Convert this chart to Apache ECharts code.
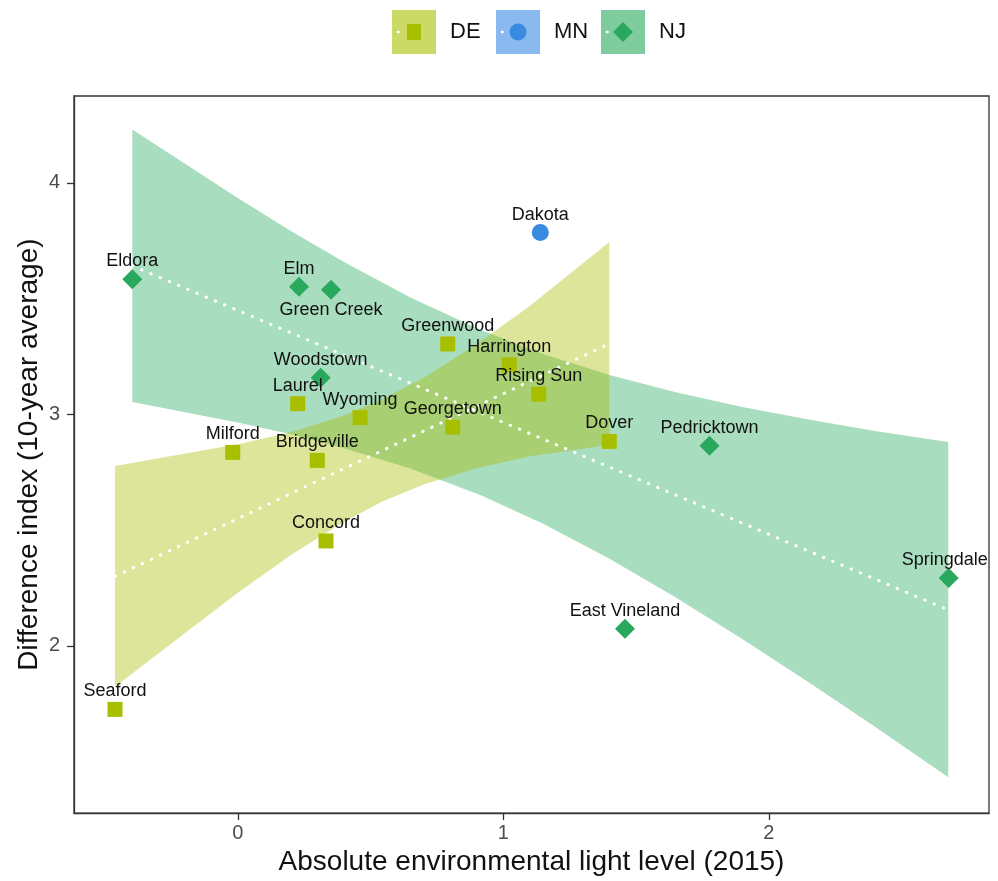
<!DOCTYPE html>
<html>
<head>
<meta charset="utf-8">
<script src="https://cdn.jsdelivr.net/npm/echarts@6/dist/echarts.min.js"></script>
<style>
html,body{margin:0;padding:0;background:#ffffff;}
#chart{width:998px;height:881px;}
</style>
</head>
<body>
<div id="chart"></div>
<script>
// ---------- data ----------
const groups = ['DE', 'MN', 'NJ'];

const deNames = ['Seaford','Milford','Bridgeville','Concord','Laurel','Wyoming','Georgetown','Greenwood','Harrington','Rising Sun','Dover'];
const deX = [-0.4625, -0.0192, 0.2994, 0.3322, 0.2256, 0.4603, 0.8094, 0.7906, 1.0226, 1.1333, 1.3992];
const deY = [1.7255, 2.8355, 2.801, 2.453, 3.046, 2.986, 2.945, 3.304, 3.2135, 3.087, 2.883];

const mnNames = ['Dakota'];
const mnX = [1.1394];
const mnY = [3.785];

const njNames = ['Eldora','Elm','Green Creek','Woodstown','Pedricktown','East Vineland','Springdale'];
const njX = [-0.3974, 0.2305, 0.351, 0.3122, 1.7767, 1.4584, 2.6776];
const njY = [3.583, 3.551, 3.538, 3.158, 2.864, 2.0735, 2.2925];

// fitted trend lines (end points)
const deLineX = [-0.4625, 1.3992];
const deLineY = [2.300, 3.305];
const njLineX = [-0.3974, 2.676];
const njLineY = [3.641, 2.155];

// confidence bands (x, lower, upper)
const deBandX  = [-0.4625, -0.25, 0, 0.2, 0.4, 0.5446, 0.7, 0.9, 1.1, 1.3992];
const deBandLo = [1.823, 2.010, 2.229, 2.392, 2.536, 2.623, 2.697, 2.767, 2.819, 2.867];
const deBandHi = [2.777, 2.820, 2.871, 2.923, 2.995, 3.065, 3.158, 3.304, 3.468, 3.744];

const njBandX  = [-0.3974, 0, 0.2, 0.4, 0.65, 0.9156, 1.15, 1.4, 1.65, 1.9, 2.15, 2.4, 2.676];
const njBandLo = [3.053, 2.965, 2.914, 2.854, 2.766, 2.650, 2.527, 2.376, 2.209, 2.030, 1.843, 1.650, 1.432];
const njBandHi = [4.230, 3.934, 3.792, 3.658, 3.505, 3.364, 3.261, 3.170, 3.095, 3.032, 2.978, 2.928, 2.880];

const xTicks = [0, 1, 2];
const yTicks = [2, 3, 4];

// ---------- styling ----------
const FONT = "'Liberation Sans', Arial, Helvetica, sans-serif";
const colors = { DE: '#a8bf00', MN: '#3a8ae2', NJ: '#28a95e' };
const bandFill = { DE: 'rgba(168,191,0,0.4)', NJ: 'rgba(40,169,94,0.4)' };
const keyFill = { DE: 'rgba(168,191,0,0.6)', MN: 'rgba(58,138,226,0.6)', NJ: 'rgba(40,169,94,0.6)' };
const symbols = { DE: 'rect', MN: 'circle', NJ: 'diamond' };
const symbolSizes = { DE: 15, MN: 17, NJ: 20 };
const labelShift = { 'Green Creek': [0, 20], 'Springdale': [-4, -18] };

function pointData(names, xs, ys) {
  return names.map((n, i) => {
    const off = labelShift[n] || [0, -18];
    return { value: [xs[i], ys[i]], name: n, label: { offset: off } };
  });
}

function bandSeries(key, xs, lo, hi) {
  const data = xs.map((x, i) => [x, lo[i], hi[i]]);
  return {
    type: 'custom',
    name: key + ' band',
    data: data,
    z: 1,
    silent: true,
    clip: true,
    encode: { x: 0, y: [1, 2] },
    renderItem: function (params, api) {
      if (params.dataIndex !== 0) return null;
      const pts = [];
      for (let i = 0; i < data.length; i++) pts.push(api.coord([data[i][0], data[i][2]]));
      for (let i = data.length - 1; i >= 0; i--) pts.push(api.coord([data[i][0], data[i][1]]));
      return { type: 'polygon', shape: { points: pts }, style: { fill: bandFill[key] } };
    }
  };
}

function lineSeries(key, xs, ys) {
  return {
    type: 'line',
    name: key + ' fit',
    data: xs.map((x, i) => [x, ys[i]]),
    showSymbol: false,
    silent: true,
    z: 3,
    lineStyle: { color: '#ffffff', width: 3, type: [0.5, 9.5], cap: 'round' }
  };
}

function scatterSeries(key, names, xs, ys) {
  return {
    type: 'scatter',
    name: key,
    data: pointData(names, xs, ys),
    symbol: symbols[key],
    symbolSize: symbolSizes[key],
    itemStyle: { color: colors[key], opacity: 1 },
    z: 5,
    label: {
      show: true,
      position: 'inside',
      formatter: p => p.name,
      fontFamily: FONT,
      fontSize: 18,
      color: '#111111',
      align: 'center',
      verticalAlign: 'middle'
    },
    emphasis: { disabled: true }
  };
}

// legend drawn as graphic (key box + marker + dotted line + text)
function legendGraphic() {
  const els = [];
  const keyX = { DE: 392, MN: 496, NJ: 601 };
  const top = 10, size = 44, cy = 32;
  groups.forEach(g => {
    const x0 = keyX[g];
    els.push({ type: 'rect', shape: { x: x0, y: top, width: size, height: size }, style: { fill: keyFill[g] } });
    els.push({ type: 'polyline', shape: { points: [[x0 + 6, cy], [x0 + 38, cy]] },
      style: { stroke: '#ffffff', lineWidth: 2.6, lineDash: [0.5, 31.5], lineCap: 'round', fill: null } });
    const cx = x0 + size / 2;
    if (g === 'DE') {
      els.push({ type: 'rect', shape: { x: cx - 7, y: cy - 8, width: 14, height: 16 }, style: { fill: colors[g] } });
    } else if (g === 'MN') {
      els.push({ type: 'circle', shape: { cx: cx, cy: cy, r: 8.5 }, style: { fill: colors[g] } });
    } else {
      els.push({ type: 'polygon', shape: { points: [[cx, cy - 10], [cx + 10, cy], [cx, cy + 10], [cx - 10, cy]] }, style: { fill: colors[g] } });
    }
    els.push({ type: 'text', x: x0 + 58, y: cy, style: { text: g, font: '22px ' + FONT, fill: '#111111', textVerticalAlign: 'middle', verticalAlign: 'middle' } });
  });
  return els;
}

const chart = echarts.init(document.getElementById('chart'), null, { renderer: 'canvas' });
chart.setOption({
  backgroundColor: '#ffffff',
  animation: false,
  textStyle: { fontFamily: FONT },
  grid: { left: 74, right: 9, top: 96, bottom: 64, show: true, borderColor: '#333333', borderWidth: 1.3, backgroundColor: 'transparent' },
  xAxis: {
    type: 'value', min: -0.617, max: 2.8294,
    axisLine: { show: true, onZero: false, lineStyle: { color: '#333333', width: 1.3 } },
    axisTick: { show: true, customValues: xTicks, length: 7, lineStyle: { color: '#333333', width: 1.3 } },
    axisLabel: { customValues: xTicks, fontSize: 20, color: '#4d4d4d', margin: 10, fontFamily: FONT },
    splitLine: { show: false },
    name: 'Absolute environmental light level (2015)', nameLocation: 'middle', nameGap: 33,
    nameTextStyle: { fontSize: 28, color: '#111111', fontFamily: FONT }
  },
  yAxis: {
    type: 'value', min: 1.2775, max: 4.375,
    axisLine: { show: true, onZero: false, lineStyle: { color: '#333333', width: 1.3 } },
    axisTick: { show: true, customValues: yTicks, length: 7, lineStyle: { color: '#333333', width: 1.3 } },
    axisLabel: { customValues: yTicks, fontSize: 20, color: '#4d4d4d', margin: 14, fontFamily: FONT },
    splitLine: { show: false },
    name: 'Difference index (10-year average)', nameLocation: 'middle', nameGap: 31, nameRotate: 90,
    nameMoveOverlap: false,
    nameTextStyle: { fontSize: 28, color: '#111111', fontFamily: FONT }
  },
  graphic: legendGraphic(),
  series: [
    bandSeries('NJ', njBandX, njBandLo, njBandHi),
    bandSeries('DE', deBandX, deBandLo, deBandHi),
    lineSeries('DE', deLineX, deLineY),
    lineSeries('NJ', njLineX, njLineY),
    scatterSeries('DE', deNames, deX, deY),
    scatterSeries('MN', mnNames, mnX, mnY),
    scatterSeries('NJ', njNames, njX, njY)
  ]
});
</script>
</body>
</html>
